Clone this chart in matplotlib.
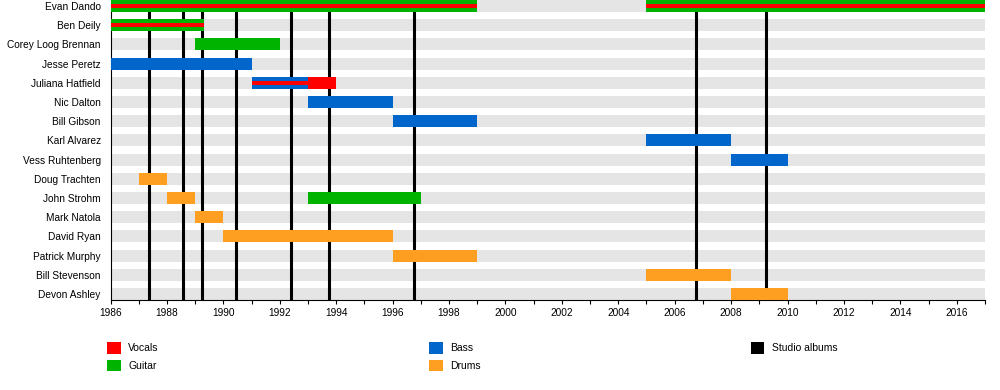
import matplotlib.pyplot as plt
from matplotlib.patches import Patch
from matplotlib.ticker import MultipleLocator

plt.rcParams['font.family'] = ['Liberation Sans', 'DejaVu Sans']

members = ['Evan Dando', 'Ben Deily', 'Corey Loog Brennan', 'Jesse Peretz',
           'Juliana Hatfield', 'Nic Dalton', 'Bill Gibson', 'Karl Alvarez',
           'Vess Ruhtenberg', 'Doug Trachten', 'John Strohm', 'Mark Natola',
           'David Ryan', 'Patrick Murphy', 'Bill Stevenson', 'Devon Ashley']

# (member, start, end)
vocals = [('Evan Dando', 1986, 1999), ('Evan Dando', 2005, 2017),
          ('Ben Deily', 1986, 1989.33), ('Juliana Hatfield', 1991, 1994)]
guitar = [('Evan Dando', 1986, 1999), ('Evan Dando', 2005, 2017),
          ('Ben Deily', 1986, 1989.33), ('Corey Loog Brennan', 1989, 1992),
          ('John Strohm', 1993, 1997)]
bass = [('Jesse Peretz', 1986, 1991), ('Juliana Hatfield', 1991, 1993),
        ('Nic Dalton', 1993, 1996), ('Bill Gibson', 1996, 1999),
        ('Karl Alvarez', 2005, 2008), ('Vess Ruhtenberg', 2008, 2010)]
drums = [('Doug Trachten', 1987, 1988), ('John Strohm', 1988, 1989),
         ('Mark Natola', 1989, 1990), ('David Ryan', 1990, 1996),
         ('Patrick Murphy', 1996, 1999), ('Bill Stevenson', 2005, 2008),
         ('Devon Ashley', 2008, 2010)]
albums = [1987.37, 1988.56, 1989.23, 1990.46, 1992.41, 1993.76, 1996.77,
          2006.74, 2009.22]

start, end = 1986, 2017
c_voc, c_gtr, c_bass, c_drum = '#FF0000', '#00B300', '#0066CC', '#FF9F22'

fig = plt.figure(figsize=(10, 3.9), dpi=100)
ax = fig.add_axes([110.5 / 1000, 90 / 390, 874.5 / 1000, 300 / 390])

pos = {m: -i for i, m in enumerate(members)}
h = 0.62

# background bands
ax.barh([pos[m] for m in members], end - start, left=start, height=h,
        color='#E5E5E5', zorder=1)

for x in albums:
    ax.axvline(x, color='black', lw=2.2, zorder=2)

def draw(segs, color, height, z):
    for m, s, e in segs:
        ax.barh(pos[m], e - s, left=s, height=height, color=color, zorder=z,
                linewidth=0)

draw(vocals, c_voc, h, 3)
draw(guitar, c_gtr, h, 4)
draw(bass, c_bass, h, 4)
draw(drums, c_drum, h, 4)
draw(vocals, c_voc, h / 3, 5)

ax.set_xlim(start, end)
ax.set_ylim(-len(members) + 1 - h / 2, h / 2)
ax.set_yticks([pos[m] for m in members])
ax.set_yticklabels(members, fontsize=7.3)
ax.tick_params(axis='y', length=0, pad=7)
ax.xaxis.set_major_locator(MultipleLocator(2))
ax.xaxis.set_minor_locator(MultipleLocator(1))
ax.tick_params(axis='x', which='both', length=3, width=0.8, labelsize=7.3,
               pad=3, direction='out')
for s in ['top', 'right']:
    ax.spines[s].set_visible(False)
for s in ['left', 'bottom']:
    ax.spines[s].set_linewidth(0.8)

groups = [(['Vocals', 'Guitar'], [c_voc, c_gtr], 107),
          (['Bass', 'Drums'], [c_bass, c_drum], 429),
          (['Studio albums'], ['black'], 750.5)]
for labels, colors, x0 in groups:
    handles = [Patch(facecolor=c, edgecolor='none', label=l)
               for l, c in zip(labels, colors)]
    fig.legend(handles=handles, loc='upper left',
               bbox_to_anchor=(x0 / 1000, 1 - 342 / 390), frameon=False,
               fontsize=7.5, borderpad=0, borderaxespad=0,
               handlelength=1.3, handleheight=1.35, handletextpad=0.75,
               labelspacing=0.58)

fig.savefig('out.png', dpi=100)
